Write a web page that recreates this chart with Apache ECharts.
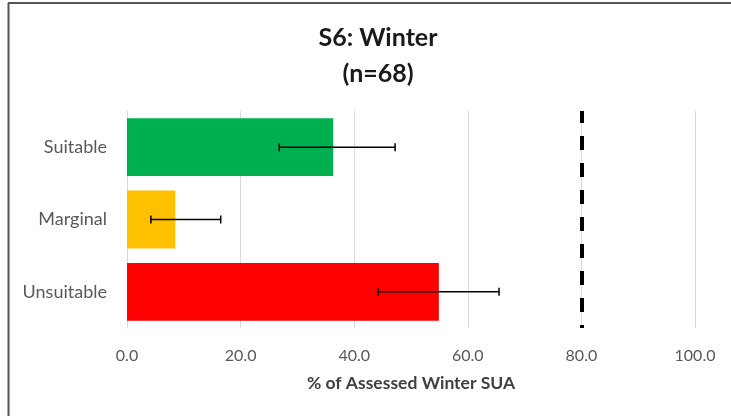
<!DOCTYPE html>
<html>
<head>
<meta charset="utf-8">
<script src="https://cdn.jsdelivr.net/npm/echarts@6/dist/echarts.min.js"></script>
<style>
    html, body { margin: 0; padding: 0; background: #fff; }
    #chart { width: 731px; height: 416px; }
</style>
</head>
<body>
<div id="chart"></div>
<script>
// 数据
const categories = ['Suitable', 'Marginal', 'Unsuitable']
const values = [36.3, 8.5, 54.9]
const errLow = [26.8, 4.2, 44.2]
const errHigh = [47.2, 16.5, 65.5]
const barColors = ['#00b050', '#ffc000', '#ff0000']
const threshold = 80

;(function () {
    const echartsInstance = echarts.init(document.getElementById('chart'))
    const font = 'Lato, "Open Sans", sans-serif'
    const errData = categories.map((c, i) => [i, errLow[i], errHigh[i]])
    const option = {
        animation: false,
        textStyle: { fontFamily: font },
        title: {
            text: 'S6: Winter\n(n=68)',
            left: 373,
            top: 15,
            textAlign: 'center',
            textStyle: {
                fontFamily: font,
                fontSize: 25,
                fontWeight: 'bold',
                color: '#1a1a1a',
                lineHeight: 36
            }
        },
        // 外框
        graphic: [
            { type: 'line', shape: { x1: 8.5, y1: 3, x2: 8.5, y2: 416 }, style: { stroke: '#555', lineWidth: 2 } },
            { type: 'line', shape: { x1: 8, y1: 3, x2: 731, y2: 3 }, style: { stroke: '#555', lineWidth: 2 } }
        ],
        grid: {
            left: 127,
            right: 36,
            top: 111,
            bottom: 88
        },
        xAxis: {
            type: 'value',
            min: 0,
            max: 100,
            interval: 20,
            name: '% of Assessed Winter SUA',
            nameLocation: 'middle',
            nameGap: 46,
            nameTextStyle: {
                fontFamily: font,
                fontSize: 17.5,
                fontWeight: 'bold',
                color: '#404040'
            },
            axisLine: { show: false },
            axisTick: { show: false },
            axisLabel: {
                fontFamily: font,
                fontSize: 16,
                color: '#595959',
                margin: 20,
                formatter: v => v.toFixed(1)
            },
            splitLine: { lineStyle: { color: '#d9d9d9', width: 1 } }
        },
        yAxis: {
            type: 'category',
            inverse: true,
            data: categories,
            axisLine: { show: true, lineStyle: { color: '#d9d9d9' } },
            axisTick: { show: false },
            axisLabel: {
                fontFamily: font,
                fontSize: 18,
                color: '#595959',
                margin: 20
            }
        },
        series: [
            {
                type: 'bar',
                barCategoryGap: '20%',
                data: values.map((v, i) => ({ value: v, itemStyle: { color: barColors[i] } })),
                markLine: {
                    silent: true,
                    symbol: 'none',
                    label: { show: false },
                    lineStyle: { color: '#000', width: 4, type: [14, 13], dashOffset: 2 },
                    data: [{ xAxis: threshold }]
                }
            },
            {
                // 误差线
                type: 'custom',
                data: errData,
                encode: { x: [1, 2], y: 0 },
                z: 5,
                renderItem: function (params, api) {
                    const idx = api.value(0)
                    const p1 = api.coord([api.value(1), idx])
                    const p2 = api.coord([api.value(2), idx])
                    const h = 4
                    const style = { stroke: '#000', lineWidth: 1.5 }
                    return {
                        type: 'group',
                        children: [
                            { type: 'line', shape: { x1: p1[0], y1: p1[1], x2: p2[0], y2: p2[1] }, style: style },
                            { type: 'line', shape: { x1: p1[0], y1: p1[1] - h, x2: p1[0], y2: p1[1] + h }, style: style },
                            { type: 'line', shape: { x1: p2[0], y1: p2[1] - h, x2: p2[0], y2: p2[1] + h }, style: style }
                        ]
                    }
                }
            }
        ]
    }
    echartsInstance.setOption(option)
    window.addEventListener('resize', () => {
        echartsInstance.resize()
    })
})()
</script>
</body>
</html>
